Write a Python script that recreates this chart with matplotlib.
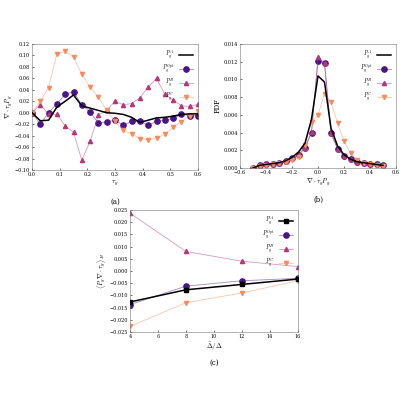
import numpy as np
import matplotlib
matplotlib.use("Agg")
import matplotlib.pyplot as plt
from matplotlib.colors import to_rgba

plt.rcParams['font.family'] = 'DejaVu Serif'
plt.rcParams['mathtext.fontset'] = 'cm'
plt.rcParams['font.size'] = 4

xa = np.round(np.arange(21) * 0.03, 2)
a_black = [0, -0.014, -0.013, 0.01, 0.02, 0.031, 0.012, 0.008, 0.004, 0, -0.001, -0.003, -0.008, -0.017, -0.013, -0.009, -0.008, -0.006, -0.003, -0.002, -0.002]
a_purple = [0, -0.02, 0, 0.016, 0.032, 0.037, 0.014, 0.001, -0.018, -0.016, -0.013, -0.022, -0.015, -0.015, -0.022, -0.015, -0.013, -0.01, -0.003, -0.005, -0.005]
a_mag = [0, 0.014, -0.003, -0.003, -0.023, -0.034, -0.083, -0.05, -0.004, 0.004, 0.02, 0.014, 0.016, 0.026, 0.045, 0.06, 0.032, 0.022, 0.012, 0.011, 0.015]
a_orange = [0, 0.02, 0.044, 0.103, 0.107, 0.097, 0.067, 0.045, 0.027, 0.004, -0.015, -0.031, -0.037, -0.045, -0.047, -0.044, -0.038, -0.025, -0.016, -0.005, 0.003]

xb = np.round(np.arange(-10, 11) * 0.05, 2)
b_black = [0, 0.0003, 0.0004, 0.0005, 0.0006, 0.0008, 0.0012, 0.0018, 0.0028, 0.0055, 0.0104, 0.0097, 0.0045, 0.0025, 0.0015, 0.001, 0.0007, 0.0006, 0.0005, 0.0004, 0.0003]
b_purple = [0, 0.0003, 0.0004, 0.0005, 0.0006, 0.0008, 0.0011, 0.0015, 0.0023, 0.004, 0.0121, 0.0119, 0.0039, 0.0022, 0.0014, 0.001, 0.0007, 0.0006, 0.0004, 0.0004, 0.0003]
b_mag = [0, 0.0003, 0.0004, 0.0005, 0.0006, 0.0008, 0.0011, 0.0015, 0.0023, 0.0041, 0.0125, 0.0118, 0.0039, 0.0022, 0.0014, 0.001, 0.0007, 0.0006, 0.0004, 0.0004, 0.0003]
b_orange = [0, 0.0002, 0.0003, 0.0004, 0.0006, 0.0007, 0.0009, 0.0012, 0.0026, 0.0052, 0.006, 0.0084, 0.0074, 0.0051, 0.003, 0.0017, 0.0009, 0.0006, 0.0004, 0.0003, 0.0002]

xc = [4, 8, 12, 16]
c_black = [-0.0127, -0.0077, -0.0055, -0.0033]
c_purple = [-0.0138, -0.0062, -0.0040, -0.0030]
c_mag = [0.0237, 0.0080, 0.0040, 0.0018]
c_orange = [-0.0227, -0.0130, -0.0090, -0.0040]

labels = [r'$P_g^A$', r'$P_g^{Opt}$', r'$P_g^{B}$', r'$P_g^{C}$']
PUR, MAG, ORA = '#4a1486', '#b5367a', '#fb8a5c'

fig = plt.figure(figsize=(4, 4), dpi=100)
ax1 = fig.add_axes([0.08, 0.575, 0.415, 0.315])
ax2 = fig.add_axes([0.6, 0.58, 0.39, 0.31])
ax3 = fig.add_axes([0.325, 0.17, 0.42, 0.305])

def draw(ax, x, bk, pu, mg, orr, black_marker=None):
    ax.plot(x, bk, color='black', lw=1.1, marker=black_marker, ms=3.5, label=labels[0], zorder=5)
    for y, c, m, ms, lab in [(pu, PUR, 'o', 3.8, labels[1]), (mg, MAG, '^', 3, labels[2]), (orr, ORA, 'v', 3, labels[3])]:
        ax.plot(x, y, color=to_rgba(c, 0.5), lw=0.6, marker=m, ms=ms, mfc=c, mec=c, label=lab)
    ax.legend(loc='upper right', frameon=False, fontsize=4, handlelength=2.5, labelspacing=0.3, markerfirst=False)
    ax.tick_params(labelsize=3.5, length=1.5, width=0.4, direction='in', pad=1.5)
    for s in ax.spines.values():
        s.set_linewidth(0.4)
        s.set_color('#777777')

draw(ax1, xa, a_black, a_purple, a_mag, a_orange)
ax1.set_xlim(0, 0.6); ax1.set_ylim(-0.1, 0.12)
ax1.set_xticks(np.arange(0, 0.61, 0.1)); ax1.set_yticks(np.arange(-0.1, 0.121, 0.02))
ax1.set_xlabel(r'$\tau_g$', fontsize=5, labelpad=1)
ax1.set_ylabel(r'$\nabla\cdot\tau_g P_g$', fontsize=5, labelpad=0)
ax1.text(0.5, -0.27, '(a)', transform=ax1.transAxes, ha='center', fontsize=5)

draw(ax2, xb, b_black, b_purple, b_mag, b_orange)
ax2.set_xlim(-0.6, 0.6); ax2.set_ylim(0, 0.014)
ax2.set_xticks(np.arange(-0.6, 0.61, 0.2)); ax2.set_yticks(np.arange(0, 0.0141, 0.002))
ax2.set_xlabel(r'$\nabla\cdot\tau_g P_g$', fontsize=5, labelpad=1)
ax2.set_ylabel('PDF', fontsize=5, labelpad=1)
ax2.text(0.5, -0.27, '(b)', transform=ax2.transAxes, ha='center', fontsize=5)

draw(ax3, xc, c_black, c_purple, c_mag, c_orange, black_marker='s')
ax3.set_xlim(4, 16); ax3.set_ylim(-0.025, 0.025)
ax3.set_xticks(range(4, 17, 2)); ax3.set_yticks(np.arange(-0.025, 0.0251, 0.005))
ax3.set_xlabel(r'$\bar{\Delta}/\Delta$', fontsize=5, labelpad=1)
ax3.set_ylabel(r'$\langle P_g \nabla\cdot \tau_g\rangle_B$', fontsize=5, labelpad=1)
ax3.text(0.5, -0.27, '(c)', transform=ax3.transAxes, ha='center', fontsize=5)

fig.savefig('out.png', dpi=100)
